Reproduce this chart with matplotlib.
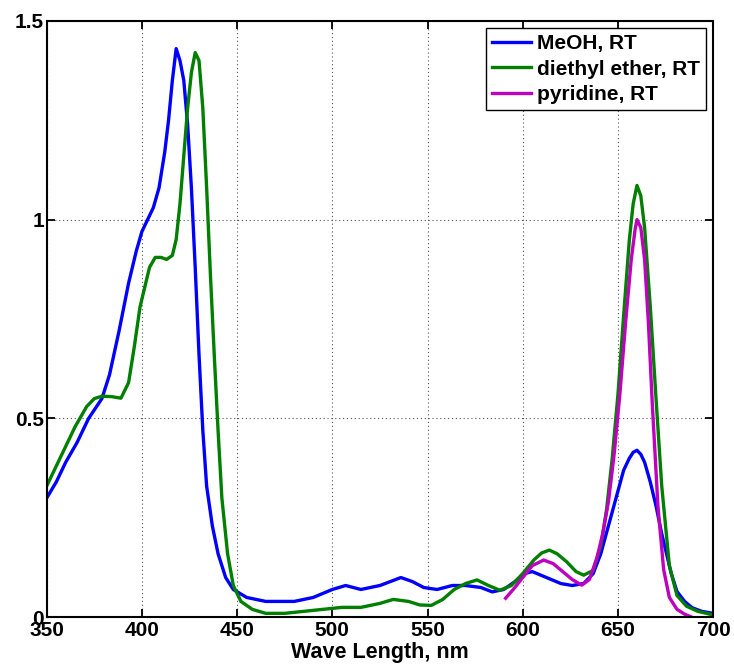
import matplotlib.pyplot as plt
import matplotlib.ticker as mticker

plt.rcParams['font.family'] = ['Liberation Sans', 'DejaVu Sans']
plt.rcParams['font.weight'] = 'bold'

# Espectros
meoh_x = [350, 355, 360, 366, 372, 379, 383, 388, 393, 397, 400, 403, 406, 409, 412, 414,
          416, 418, 420, 422, 424, 426, 428, 430, 432, 434, 437, 440, 444, 448, 455, 465,
          480, 490, 500, 507, 515, 525, 536, 542, 548, 555, 563, 570, 578, 584, 590, 596,
          601, 605, 610, 615, 620, 626, 632, 637, 641, 645, 649, 653, 656, 658, 660, 662,
          664, 667, 670, 673, 675, 678, 681, 685, 689, 694, 700]
meoh_y = [0.30, 0.34, 0.39, 0.44, 0.50, 0.55, 0.61, 0.72, 0.84, 0.92, 0.97, 1.00, 1.03, 1.08, 1.17, 1.25,
          1.35, 1.43, 1.40, 1.35, 1.24, 1.08, 0.88, 0.66, 0.47, 0.33, 0.23, 0.16, 0.10, 0.07, 0.05, 0.04,
          0.04, 0.05, 0.07, 0.08, 0.07, 0.08, 0.10, 0.09, 0.075, 0.07, 0.08, 0.08, 0.075, 0.064, 0.07, 0.09,
          0.11, 0.115, 0.105, 0.095, 0.085, 0.08, 0.085, 0.11, 0.16, 0.23, 0.30, 0.37, 0.40, 0.415, 0.42, 0.41,
          0.39, 0.34, 0.28, 0.21, 0.17, 0.11, 0.065, 0.04, 0.024, 0.015, 0.01]

ether_x = [350, 355, 360, 365, 371, 375, 379, 384, 389, 393, 396, 399, 402, 404, 407, 410,
           413, 416, 418, 420, 422, 424, 426, 428, 430, 432, 434, 436, 438, 440, 442, 445,
           448, 452, 458, 465, 475, 485, 495, 505, 515, 525, 532, 540, 546, 552, 558, 564,
           570, 576, 582, 588, 594, 600, 606, 610, 614, 618, 623, 628, 632, 637, 641, 644,
           647, 650, 653, 656, 658, 660, 662, 664, 667, 670, 673, 677, 681, 686, 692, 700]
ether_y = [0.33, 0.38, 0.43, 0.48, 0.53, 0.55, 0.556, 0.555, 0.551, 0.59, 0.68, 0.78, 0.84, 0.88, 0.905, 0.905,
           0.90, 0.91, 0.95, 1.04, 1.16, 1.28, 1.37, 1.42, 1.40, 1.28, 1.08, 0.86, 0.66, 0.47, 0.30, 0.16,
           0.08, 0.04, 0.02, 0.01, 0.01, 0.015, 0.02, 0.025, 0.025, 0.035, 0.045, 0.04, 0.031, 0.03, 0.045, 0.07,
           0.085, 0.094, 0.08, 0.068, 0.08, 0.11, 0.145, 0.162, 0.169, 0.16, 0.14, 0.115, 0.106, 0.118, 0.18, 0.27,
           0.40, 0.56, 0.76, 0.95, 1.04, 1.086, 1.06, 0.98, 0.78, 0.55, 0.33, 0.13, 0.055, 0.028, 0.015, 0.006]

pyr_x = [591, 595, 600, 605, 611, 616, 621, 626, 631, 635, 639, 642, 645, 648, 651, 654,
         657, 659, 660, 662, 664, 666, 668, 671, 674, 677, 681, 685, 689]
pyr_y = [0.048, 0.07, 0.10, 0.13, 0.144, 0.135, 0.115, 0.095, 0.081, 0.095, 0.15, 0.21, 0.29, 0.41, 0.56, 0.74,
         0.90, 0.975, 1.00, 0.98, 0.90, 0.74, 0.54, 0.28, 0.12, 0.05, 0.02, 0.008, 0.0]

fig = plt.figure(figsize=(7.34, 6.71), dpi=100)
ax = fig.add_axes([0.0636, 0.08, 0.908, 0.889])

ax.plot(meoh_x, meoh_y, color='#0000ff', lw=2.4, label='MeOH, RT')
ax.plot(ether_x, ether_y, color='#007f00', lw=2.4, label='diethyl ether, RT')
ax.plot(pyr_x, pyr_y, color='#bf00bf', lw=2.4, label='pyridine, RT')

ax.set_xlim(350, 700)
ax.set_ylim(0, 1.5)
ax.set_xticks(range(350, 701, 50))
ax.set_yticks([0, 0.5, 1, 1.5])
ax.yaxis.set_major_formatter(mticker.FuncFormatter(lambda v, p: f"{v:g}"))
ax.tick_params(direction='in', top=True, right=True, length=6, width=1.3,
               labelsize=15)
ax.tick_params(axis='x', pad=3)
ax.tick_params(axis='y', pad=2)
ax.grid(True, linestyle=(0, (1, 2.5)), color='#555555', linewidth=0.8)
for s in ax.spines.values():
    s.set_linewidth(1.5)
ax.set_xlabel('Wave Length, nm', fontsize=15.5, fontweight='bold', labelpad=1)

leg = ax.legend(loc='upper right', fontsize=15, handlelength=1.9, handletextpad=0.25,
                borderpad=0.3, labelspacing=0.3, fancybox=False, framealpha=1,
                edgecolor='black', borderaxespad=0.35)
leg.get_frame().set_linewidth(1.0)

fig.savefig('out.png', dpi=100)
